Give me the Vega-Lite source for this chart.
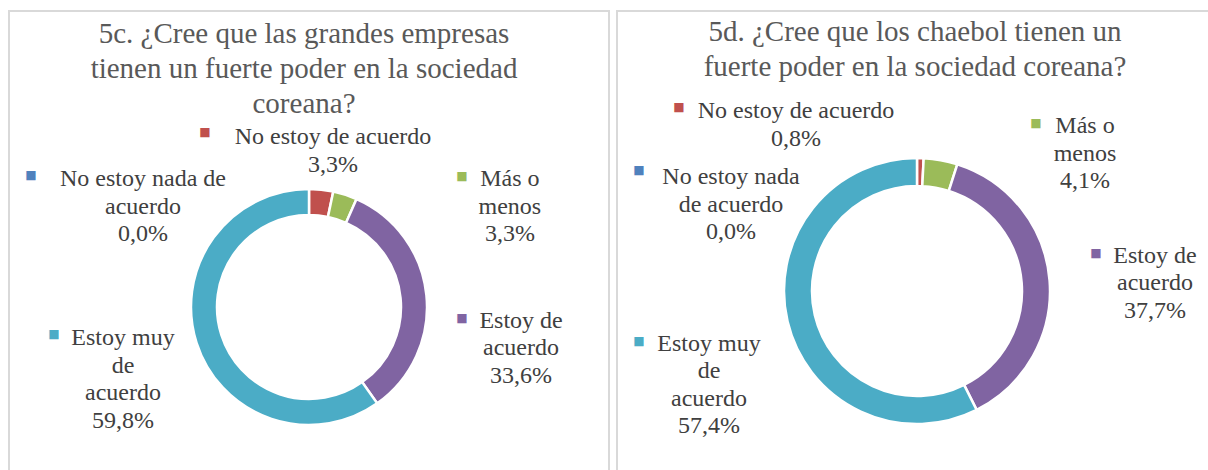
{
  "$schema": "https://vega.github.io/schema/vega-lite/v6.json",
  "padding": {"left": 8, "top": 10, "right": 0, "bottom": 0},
  "spacing": 6,
  "config": {
    "view": {"stroke": "#d9d9d9", "strokeWidth": 2},
    "font": "Liberation Serif",
    "text": {"font": "Liberation Serif"}
  },
  "hconcat": [
    {
      "width": 600,
      "height": 592,
      "view": {"stroke": "#d9d9d9", "strokeWidth": 2},
      "title": {
        "text": ["5c. ¿Cree que las grandes empresas", "tienen un fuerte poder en la sociedad", "coreana?"],
        "font": "Liberation Serif",
        "fontSize": 29,
        "fontWeight": "normal",
        "color": "#595959",
        "lineHeight": 35,
        "baseline": "top",
        "offset": -108,
        "anchor": "middle",
        "dx": -5
      },
      "data": {
        "values": [
          {"cat": "No estoy nada de acuerdo", "orden": 1, "pct": 0.0, "label": "No estoy nada de\nacuerdo\n0,0%"},
          {"cat": "No estoy de acuerdo", "orden": 2, "pct": 3.3, "label": "No estoy de acuerdo\n3,3%"},
          {"cat": "Más o menos", "orden": 3, "pct": 3.3, "label": "Más o\nmenos\n3,3%"},
          {"cat": "Estoy de acuerdo", "orden": 4, "pct": 33.6, "label": "Estoy de\nacuerdo\n33,6%"},
          {"cat": "Estoy muy de acuerdo", "orden": 5, "pct": 59.8, "label": "Estoy muy\nde\nacuerdo\n59,8%"}
        ]
      },
      "transform": [
        {"stack": "pct", "groupby": [], "sort": [{"field": "orden", "order": "ascending"}], "as": ["v0", "v1"]}
      ],
      "encoding": {
        "theta": {"field": "v0", "type": "quantitative", "stack": null, "scale": {"domain": [0, 100]}}
      },
      "layer": [
        {
          "mark": {"type": "arc", "innerRadius": 92, "outerRadius": 118, "stroke": "white", "strokeWidth": 2.5},
          "encoding": {
            "theta2": {"field": "v1"},
            "color": {"field": "cat", "type": "nominal", "legend": null,
              "scale": {"domain": ["No estoy nada de acuerdo", "No estoy de acuerdo", "Más o menos", "Estoy de acuerdo", "Estoy muy de acuerdo"],
                        "range": ["#4F81BD", "#C0504D", "#9BBB59", "#8064A2", "#4BACC6"]}}
          }
        },
        {
          "transform": [{"filter": "datum.orden === 1"}],
          "mark": {"type": "text", "radius": 150, "dx": -166, "dy": 29, "align": "center", "baseline": "alphabetic", "fontSize": 24, "lineHeight": 27.5, "lineBreak": "\n", "color": "#404040"},
          "encoding": {"text": {"field": "label"}}
        },
        {
          "transform": [{"filter": "datum.orden === 2"}],
          "mark": {"type": "text", "radius": 150, "dx": 24, "dy": -13, "align": "center", "baseline": "alphabetic", "fontSize": 24, "lineHeight": 27.5, "lineBreak": "\n", "color": "#404040"},
          "encoding": {"text": {"field": "label"}}
        },
        {
          "transform": [{"filter": "datum.orden === 3"}],
          "mark": {"type": "text", "radius": 150, "dx": 170, "dy": 26, "align": "center", "baseline": "alphabetic", "fontSize": 24, "lineHeight": 27.5, "lineBreak": "\n", "color": "#404040"},
          "encoding": {"text": {"field": "label"}}
        },
        {
          "transform": [{"filter": "datum.orden === 4"}],
          "mark": {"type": "text", "radius": 150, "dx": 151.6, "dy": 158, "align": "center", "baseline": "alphabetic", "fontSize": 24, "lineHeight": 27.5, "lineBreak": "\n", "color": "#404040"},
          "encoding": {"text": {"field": "label"}}
        },
        {
          "transform": [{"filter": "datum.orden === 5"}],
          "mark": {"type": "text", "radius": 150, "dx": -272.6, "dy": -84.4, "align": "center", "baseline": "alphabetic", "fontSize": 24, "lineHeight": 27.5, "lineBreak": "\n", "color": "#404040"},
          "encoding": {"text": {"field": "label"}}
        },
        {
          "transform": [{"filter": "datum.orden === 1"}],
          "mark": {"type": "text", "text": "■", "font": "DejaVu Sans", "fontSize": 12, "radius": 150, "dx": -278, "dy": 18, "align": "center", "baseline": "middle"},
          "encoding": {"color": {"field": "cat", "type": "nominal", "legend": null}}
        },
        {
          "transform": [{"filter": "datum.orden === 2"}],
          "mark": {"type": "text", "text": "■", "font": "DejaVu Sans", "fontSize": 12, "radius": 150, "dx": -104, "dy": -25, "align": "center", "baseline": "middle"},
          "encoding": {"color": {"field": "cat", "type": "nominal", "legend": null}}
        },
        {
          "transform": [{"filter": "datum.orden === 3"}],
          "mark": {"type": "text", "text": "■", "font": "DejaVu Sans", "fontSize": 12, "radius": 150, "dx": 122, "dy": 16, "align": "center", "baseline": "middle"},
          "encoding": {"color": {"field": "cat", "type": "nominal", "legend": null}}
        },
        {
          "transform": [{"filter": "datum.orden === 4"}],
          "mark": {"type": "text", "text": "■", "font": "DejaVu Sans", "fontSize": 12, "radius": 150, "dx": 92.6, "dy": 148, "align": "center", "baseline": "middle"},
          "encoding": {"color": {"field": "cat", "type": "nominal", "legend": null}}
        },
        {
          "transform": [{"filter": "datum.orden === 5"}],
          "mark": {"type": "text", "text": "■", "font": "DejaVu Sans", "fontSize": 12, "radius": 150, "dx": -341.6, "dy": -95.4, "align": "center", "baseline": "middle"},
          "encoding": {"color": {"field": "cat", "type": "nominal", "legend": null}}
        }
      ]
    },
    {
      "width": 600,
      "height": 560,
      "view": {"stroke": "#d9d9d9", "strokeWidth": 2},
      "title": {
        "text": ["5d. ¿Cree que los chaebol tienen un", "fuerte poder en la sociedad coreana?"],
        "font": "Liberation Serif",
        "fontSize": 29,
        "fontWeight": "normal",
        "color": "#595959",
        "lineHeight": 35,
        "baseline": "top",
        "offset": -71,
        "anchor": "middle",
        "dx": -2
      },
      "data": {
        "values": [
          {"cat": "No estoy nada de acuerdo", "orden": 1, "pct": 0.0, "label": "No estoy nada\nde acuerdo\n0,0%"},
          {"cat": "No estoy de acuerdo", "orden": 2, "pct": 0.8, "label": "No estoy de acuerdo\n0,8%"},
          {"cat": "Más o menos", "orden": 3, "pct": 4.1, "label": "Más o\nmenos\n4,1%"},
          {"cat": "Estoy de acuerdo", "orden": 4, "pct": 37.7, "label": "Estoy de\nacuerdo\n37,7%"},
          {"cat": "Estoy muy de acuerdo", "orden": 5, "pct": 57.4, "label": "Estoy muy\nde\nacuerdo\n57,4%"}
        ]
      },
      "transform": [
        {"stack": "pct", "groupby": [], "sort": [{"field": "orden", "order": "ascending"}], "as": ["v0", "v1"]}
      ],
      "encoding": {
        "theta": {"field": "v0", "type": "quantitative", "stack": null, "scale": {"domain": [0, 100]}}
      },
      "layer": [
        {
          "mark": {"type": "arc", "innerRadius": 105, "outerRadius": 133, "stroke": "white", "strokeWidth": 2.5},
          "encoding": {
            "theta2": {"field": "v1"},
            "color": {"field": "cat", "type": "nominal", "legend": null,
              "scale": {"domain": ["No estoy nada de acuerdo", "No estoy de acuerdo", "Más o menos", "Estoy de acuerdo", "Estoy muy de acuerdo"],
                        "range": ["#4F81BD", "#C0504D", "#9BBB59", "#8064A2", "#4BACC6"]}}
          }
        },
        {
          "transform": [{"filter": "datum.orden === 1"}],
          "mark": {"type": "text", "radius": 165, "dx": -186, "dy": 58, "align": "center", "baseline": "alphabetic", "fontSize": 24, "lineHeight": 27.5, "lineBreak": "\n", "color": "#404040"},
          "encoding": {"text": {"field": "label"}}
        },
        {
          "transform": [{"filter": "datum.orden === 2"}],
          "mark": {"type": "text", "radius": 165, "dx": -121, "dy": -8, "align": "center", "baseline": "alphabetic", "fontSize": 24, "lineHeight": 27.5, "lineBreak": "\n", "color": "#404040"},
          "encoding": {"text": {"field": "label"}}
        },
        {
          "transform": [{"filter": "datum.orden === 3"}],
          "mark": {"type": "text", "radius": 165, "dx": 159.7, "dy": 6.8, "align": "center", "baseline": "alphabetic", "fontSize": 24, "lineHeight": 27.5, "lineBreak": "\n", "color": "#404040"},
          "encoding": {"text": {"field": "label"}}
        },
        {
          "transform": [{"filter": "datum.orden === 4"}],
          "mark": {"type": "text", "radius": 165, "dx": 188, "dy": 129.2, "align": "center", "baseline": "alphabetic", "fontSize": 24, "lineHeight": 27.5, "lineBreak": "\n", "color": "#404040"},
          "encoding": {"text": {"field": "label"}}
        },
        {
          "transform": [{"filter": "datum.orden === 5"}],
          "mark": {"type": "text", "radius": 165, "dx": -282, "dy": -87.5, "align": "center", "baseline": "alphabetic", "fontSize": 24, "lineHeight": 27.5, "lineBreak": "\n", "color": "#404040"},
          "encoding": {"text": {"field": "label"}}
        },
        {
          "transform": [{"filter": "datum.orden === 1"}],
          "mark": {"type": "text", "text": "■", "font": "DejaVu Sans", "fontSize": 12, "radius": 165, "dx": -278, "dy": 44, "align": "center", "baseline": "middle"},
          "encoding": {"color": {"field": "cat", "type": "nominal", "legend": null}}
        },
        {
          "transform": [{"filter": "datum.orden === 2"}],
          "mark": {"type": "text", "text": "■", "font": "DejaVu Sans", "fontSize": 12, "radius": 165, "dx": -238, "dy": -19, "align": "center", "baseline": "middle"},
          "encoding": {"color": {"field": "cat", "type": "nominal", "legend": null}}
        },
        {
          "transform": [{"filter": "datum.orden === 3"}],
          "mark": {"type": "text", "text": "■", "font": "DejaVu Sans", "fontSize": 12, "radius": 165, "dx": 110.7, "dy": -3.2, "align": "center", "baseline": "middle"},
          "encoding": {"color": {"field": "cat", "type": "nominal", "legend": null}}
        },
        {
          "transform": [{"filter": "datum.orden === 4"}],
          "mark": {"type": "text", "text": "■", "font": "DejaVu Sans", "fontSize": 12, "radius": 165, "dx": 129, "dy": 119.2, "align": "center", "baseline": "middle"},
          "encoding": {"color": {"field": "cat", "type": "nominal", "legend": null}}
        },
        {
          "transform": [{"filter": "datum.orden === 5"}],
          "mark": {"type": "text", "text": "■", "font": "DejaVu Sans", "fontSize": 12, "radius": 165, "dx": -352, "dy": -97.5, "align": "center", "baseline": "middle"},
          "encoding": {"color": {"field": "cat", "type": "nominal", "legend": null}}
        }
      ]
    }
  ]
}
